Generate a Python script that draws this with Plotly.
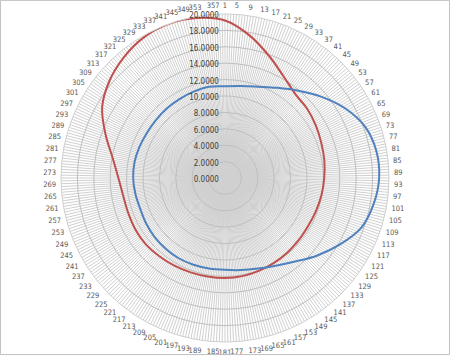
import plotly.graph_objects as go

# angle of each reading, degrees clockwise from the top (category = angle + 1)
angles = [0, 10, 20, 30, 40, 50, 60, 70, 80, 90, 100, 110, 120, 130, 140, 150, 160, 170,
          180, 190, 200, 210, 220, 230, 240, 250, 260, 270, 280, 290, 300, 310, 320, 330, 340, 350]

red_values = [19.2, 17.6, 15.8, 14.3, 13.35, 13.1, 12.8, 12.5, 12.3, 12.1, 11.95, 11.8,
              11.7, 11.75, 11.85, 11.95, 12.05, 12.15, 12.2, 12.2, 12.25, 12.35, 12.45, 12.6,
              12.6, 12.55, 12.6, 13.0, 13.9, 15.5, 17.3, 18.4, 19.2, 19.8, 20.0, 19.8]

blue_values = [11.2, 11.4, 11.85, 12.7, 13.9, 15.4, 16.95, 18.2, 18.75, 18.8, 18.4, 17.7,
               16.2, 14.7, 13.3, 12.35, 11.75, 11.4, 11.2, 11.2, 11.25, 11.3, 11.25, 11.2,
               11.1, 11.0, 11.1, 11.2, 11.2, 11.1, 11.0, 11.0, 11.05, 11.1, 11.2, 11.3]

categories = list(range(1, 361))
label_step = 4
radial_ticks = [0, 2, 4, 6, 8, 10, 12, 14, 16, 18, 20]

tick_angles = [c - 1 for c in categories]
tick_text = [str(c) if (c - 1) % label_step == 0 else "" for c in categories]

FONT = "Liberation Sans Narrow, DejaVu Sans Condensed, Liberation Sans, Arial"

fig = go.Figure()
fig.add_trace(go.Scatterpolar(
    r=red_values + red_values[:1], theta=angles + angles[:1], mode="lines",
    line=dict(color="#c0504d", width=2, shape="spline"), showlegend=False, hoverinfo="skip"))
fig.add_trace(go.Scatterpolar(
    r=blue_values + blue_values[:1], theta=angles + angles[:1], mode="lines",
    line=dict(color="#4f81bd", width=2, shape="spline"), showlegend=False, hoverinfo="skip"))

fig.update_layout(
    width=450, height=356,
    margin=dict(l=0, r=0, t=0, b=0),
    paper_bgcolor="white",
    font=dict(family=FONT, size=8, color="#595959"),
    polar=dict(
        domain=dict(x=[(225 - 164) / 450, (225 + 164) / 450], y=[(178 - 164) / 356, (178 + 164) / 356]),
        bgcolor="white",
        angularaxis=dict(
            direction="clockwise", rotation=90,
            tickmode="array", tickvals=tick_angles, ticktext=tick_text,
            showgrid=True, gridcolor="#d0d0d0", gridwidth=1,
            showline=True, linecolor="#d0d0d0", linewidth=1,
            ticks="outside", ticklen=3, tickcolor="rgba(0,0,0,0)",
            tickfont=dict(family=FONT, size=7.5, color="#595959"),
        ),
        radialaxis=dict(
            range=[0, 20], tickmode="array", tickvals=radial_ticks,
            ticktext=[f"{v:.4f}" for v in radial_ticks],
            angle=90, side="counterclockwise",
            showgrid=True, gridcolor="#bfbfbf", gridwidth=1,
            showline=False, ticks="", tickfont=dict(family=FONT, size=8, color="#404040"),
        ),
    ),
    shapes=[dict(type="rect", xref="paper", yref="paper", x0=0.001, y0=0.004, x1=0.999, y1=0.999,
                 line=dict(color="#bfbfbf", width=1))],
)

fig.write_html("out.html", config={"displayModeBar": False},
               post_script="document.body.style.margin='0';")
